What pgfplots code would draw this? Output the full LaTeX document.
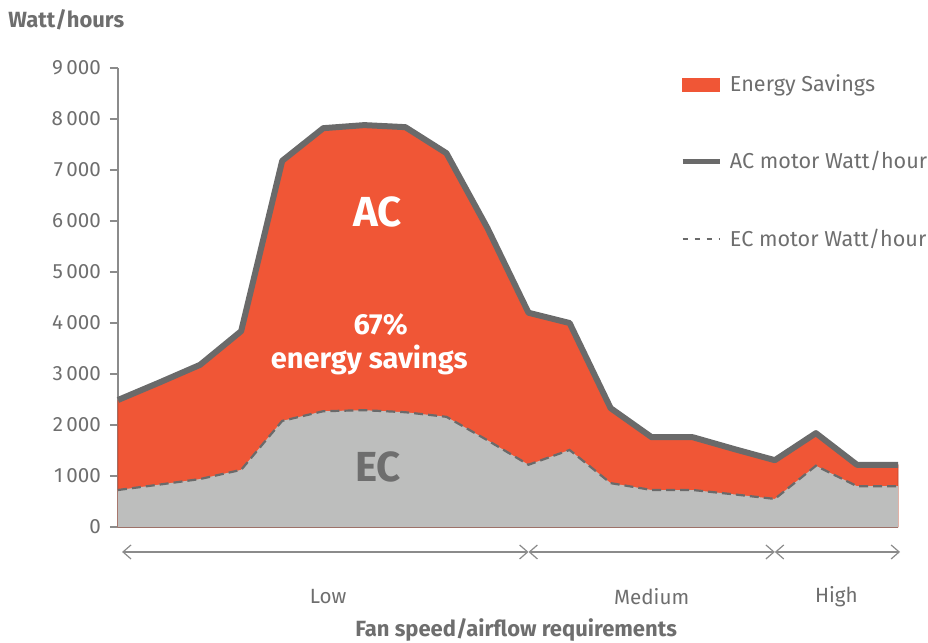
\documentclass[border=0pt]{standalone}
\usepackage{fontspec}
\setmainfont{Fira Sans}
\usepackage{pgfplots}
\usepackage{pgfplotstable}
\pgfplotsset{compat=1.18}
\usetikzlibrary{arrows.meta,calc}

\definecolor{savings}{HTML}{F05636}
\definecolor{ecgray}{HTML}{BDBEBD}
\definecolor{linegray}{HTML}{6A6A6A}
\definecolor{txtgray}{HTML}{6E6E6E}

% AC and EC motor consumption along the fan speed range
\pgfplotstableread{
i  ac    ec
0  2490  725
1  2830  830
2  3180  940
3  3840  1120
4  7180  2080
5  7820  2270
6  7880  2290
7  7840  2250
8  7330  2160
9  5860  1700
10 4200  1220
11 4000  1510
12 2330  860
13 1760  725
14 1760  725
15 1530  640
16 1310  550
17 1840  1200
18 1220  800
19 1220  800
}\data

\begin{document}
\begin{tikzpicture}[x=1pt,y=1pt]
\begin{axis}[
  scale only axis,
  width=390pt, height=229.5pt,
  xmin=0, xmax=19, ymin=0, ymax=9000,
  axis x line=bottom, axis y line=left,
  axis line style={draw=txtgray!80, line width=0.6pt, -},
  xtick=\empty,
  ytick={0,1000,...,9000},
  tick align=outside, major tick length=4pt,
  ytick style={draw=txtgray!80, line width=0.6pt},
  yticklabel style={font=\fontsize{10.3}{12}\selectfont, text=txtgray, xshift=-1pt},
  /pgf/number format/assume math mode=true,
  /pgf/number format/1000 sep={\,},
  scaled y ticks=false,
  clip=false,
  legend cell align=left,
  legend style={draw=none, fill=none, at={(rel axis cs:0.72,0.995)}, anchor=north west,
    font=\fontsize{10.8}{13}\selectfont, text=txtgray, row sep=24.5pt, inner sep=0pt,
    nodes={inner xsep=4pt}},
  legend image code/.code={\draw[#1] (0pt,0pt) -- (18.5pt,0pt);},
]
\addplot[fill=savings, draw=savings!80!black, line width=0.3pt, forget plot] table[x=i, y=ac] {\data} \closedcycle;
\addplot[fill=ecgray, draw=none, forget plot] table[x=i, y=ec] {\data} \closedcycle;
\addplot[draw=linegray, line width=1.1pt, dash pattern=on 4.5pt off 2.5pt, forget plot] table[x=i, y=ec] {\data};
\addplot[draw=linegray, line width=3pt, line join=round, forget plot] table[x=i, y=ac] {\data};

\addlegendimage{legend image code/.code={\fill[savings] (0pt,-3.2pt) rectangle (18.5pt,3.2pt);}}
\addlegendentry{Energy Savings}
\addlegendimage{draw=linegray, line width=2.5pt}
\addlegendentry{AC motor Watt/hour}
\addlegendimage{draw=linegray, line width=0.8pt, dash pattern=on 2.5pt off 3.5pt}
\addlegendentry{EC motor Watt/hour}

\coordinate (O) at (rel axis cs:0,0);
\coordinate (T) at (rel axis cs:1,1);

\node[text=white, font=\bfseries\fontsize{21}{23}\selectfont] at (axis cs:6.33,6180) {AC};
\node[text=white, font=\bfseries\fontsize{14.5}{17.5}\selectfont] at (axis cs:6.4,3960) {67\%};
\node[text=white, font=\bfseries\fontsize{14.5}{17.5}\selectfont] at (axis cs:6.12,3270) {energy savings};
\node[text=txtgray, font=\bfseries\fontsize{21}{23}\selectfont] at (axis cs:6.33,1180) {EC};

\draw[txtgray!80, line width=0.6pt, {Straight Barb[length=4pt,width=7pt]}-{Straight Barb[length=4pt,width=7pt]}]
  (axis cs:0.1,-490) -- (axis cs:10,-490);
\draw[txtgray!80, line width=0.6pt, {Straight Barb[length=4pt,width=7pt]}-{Straight Barb[length=4pt,width=7pt]}]
  (axis cs:10,-490) -- (axis cs:16,-490);
\draw[txtgray!80, line width=0.6pt, {Straight Barb[length=4pt,width=7pt]}-{Straight Barb[length=4pt,width=7pt]}]
  (axis cs:16,-490) -- (axis cs:19.05,-490);

\node[text=txtgray, font=\fontsize{10.3}{12}\selectfont] at (axis cs:5.12,-1370) {Low};
\node[text=txtgray, font=\fontsize{10.3}{12}\selectfont] at (axis cs:13.0,-1370) {Medium};
\node[text=txtgray, font=\fontsize{10.3}{12}\selectfont] at (axis cs:17.5,-1370) {High};
\node[text=txtgray, font=\bfseries\fontsize{11}{13}\selectfont] at (axis cs:9.7,-2020) {Fan speed/airflow requirements};
\end{axis}
\node[text=txtgray, font=\bfseries\fontsize{11}{13}\selectfont, anchor=west, inner sep=0pt] at ($(O)+(-55pt,253.5pt)$) {Watt/hours};
\pgfresetboundingbox
\path[use as bounding box] ($(O)+(-59pt,-58pt)$) rectangle ($(T)+(15pt,34pt)$);
\end{tikzpicture}
\end{document}
